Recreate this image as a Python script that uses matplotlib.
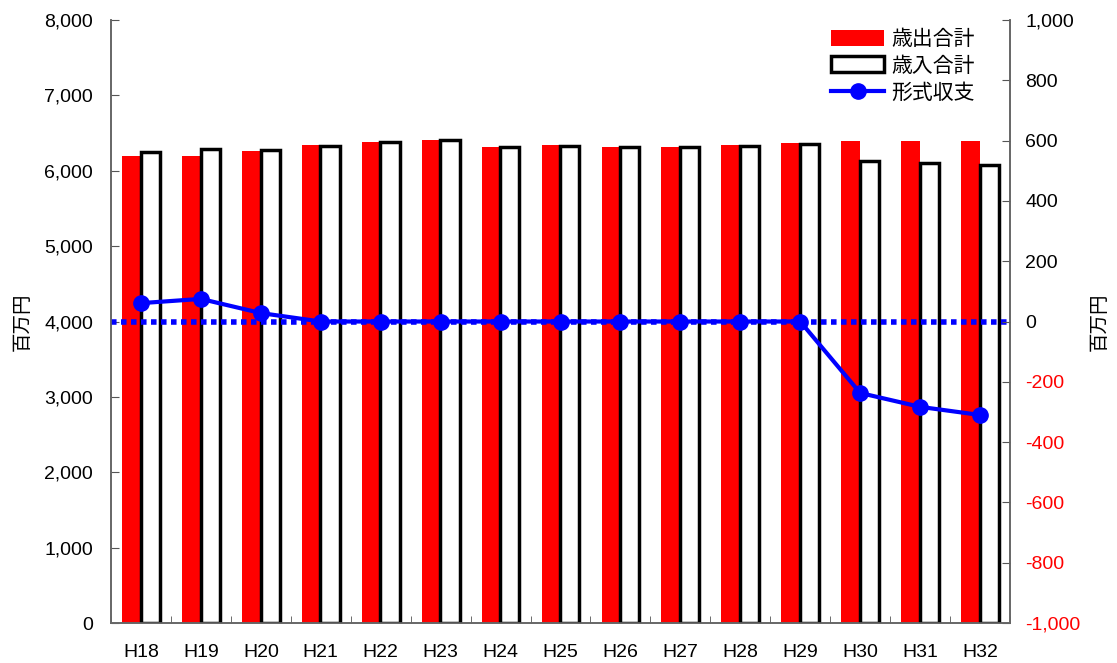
import matplotlib
matplotlib.use("Agg")
import matplotlib.pyplot as plt
from matplotlib.ticker import FuncFormatter, MultipleLocator, FixedLocator
import numpy as np

plt.rcParams['font.family'] = ['Liberation Sans', 'Noto Sans CJK JP', 'DejaVu Sans']

years = ["H18", "H19", "H20", "H21", "H22", "H23", "H24", "H25",
         "H26", "H27", "H28", "H29", "H30", "H31", "H32"]
expenditure = [6200, 6200, 6260, 6340, 6380, 6410, 6315, 6340,
               6315, 6315, 6340, 6365, 6395, 6395, 6395]
revenue = [6250, 6285, 6280, 6330, 6380, 6410, 6310, 6330,
           6310, 6310, 6330, 6355, 6130, 6100, 6075]
balance = [61, 75, 28, 0, 0, 0, 0, 0, 0, 0, 0, 0, -237, -283, -310]

fig = plt.figure(figsize=(11.17, 6.63), dpi=100)
ax = fig.add_axes([0.0994, 0.0603, 0.8048, 0.9095])
ax2 = ax.twinx()

x = np.arange(len(years))
w = 0.32
ax.bar(x - 0.155, expenditure, width=w, color="#ff0000", label="歳出合計", zorder=2)
ax.bar(x + 0.155, revenue, width=w, facecolor="white", edgecolor="black",
       linewidth=2.5, label="歳入合計", zorder=3)

ax.set_xlim(-0.5, len(years) - 0.5)
ax.set_ylim(0, 8000)
ax.yaxis.set_major_locator(MultipleLocator(1000))
ax.yaxis.set_major_formatter(FuncFormatter(lambda v, p: f"{int(v):,}"))
ax.set_xticks(x)
ax.set_xticklabels(years)
ax.xaxis.set_minor_locator(FixedLocator(np.arange(len(years) + 1) - 0.5))
ax.tick_params(axis="x", which="major", length=0, labelsize=14, pad=15)
ax.tick_params(axis="x", which="minor", direction="in", length=5, color="#555555")
ax.tick_params(axis="y", direction="in", length=6, labelsize=14, pad=13, color="#555555")
ax.set_ylabel("百万円", fontsize=14, labelpad=9)

ax2.set_ylim(-1000, 1000)
ax2.axhline(0, color="#0000ff", linewidth=4, linestyle=(0, (1, 0.8)), zorder=1)
ax2.plot(x, balance, color="#0000ff", linewidth=3, marker="o", markersize=11,
         label="形式収支", zorder=4)
ax2.yaxis.set_major_locator(MultipleLocator(200))
ax2.yaxis.set_major_formatter(FuncFormatter(lambda v, p: f"{int(v):,}"))
ax2.tick_params(axis="y", direction="in", length=6, labelsize=14, pad=11, color="#555555")
ax2.set_ylabel("百万円", fontsize=14, labelpad=8)

for a in (ax, ax2):
    a.spines["top"].set_visible(False)
    for s in ("left", "right", "bottom"):
        a.spines[s].set_color("#666666")
        a.spines[s].set_linewidth(1.2)

fig.canvas.draw()
for lbl in ax2.get_yticklabels():
    try:
        if float(lbl.get_text().replace(",", "").replace("\u2212", "-")) < 0:
            lbl.set_color("#ff0000")
    except ValueError:
        pass

h1, l1 = ax.get_legend_handles_labels()
h2, l2 = ax2.get_legend_handles_labels()
leg = ax2.legend(h1 + h2, l1 + l2, loc="upper right", frameon=False, fontsize=15,
                 handlelength=2.55, handleheight=0.8, handletextpad=0.35,
                 borderaxespad=0.2, bbox_to_anchor=(0.975, 1.005), labelspacing=0.35,
                 markerscale=1.0)
ax2.set_zorder(ax.get_zorder() + 1)
ax2.patch.set_visible(False)

fig.savefig("out.png", dpi=100)
